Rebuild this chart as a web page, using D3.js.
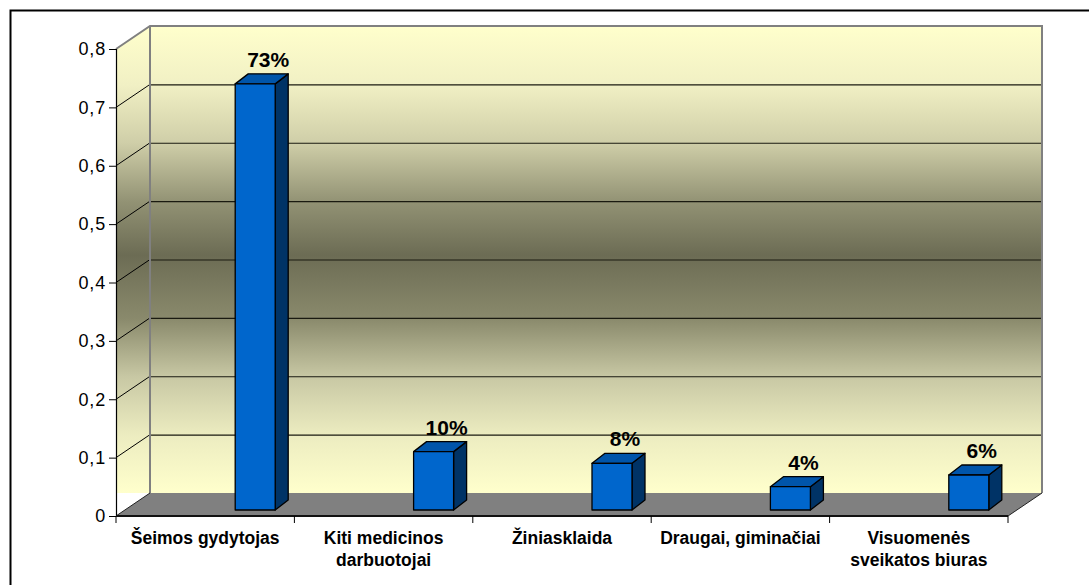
<!DOCTYPE html>
<html><head><meta charset="utf-8">
<script src="https://cdn.jsdelivr.net/npm/d3@7"></script>
<style>html,body{margin:0;padding:0;background:#fff}svg{display:block}</style>
</head><body>
<script>
const categories = [["Šeimos gydytojas"],["Kiti medicinos","darbuotojai"],["Žiniasklaida"],["Draugai, giminačiai"],["Visuomenės","sveikatos biuras"]];
const values = [0.73, 0.10, 0.08, 0.04, 0.06];
const valueLabels = ["73%","10%","8%","4%","6%"];
const yTicks = [0,0.1,0.2,0.3,0.4,0.5,0.6,0.7,0.8];

(function(){
const W=1089,H=585;
const svg=d3.select("body").append("svg").attr("width",W).attr("height",H);
svg.append("rect").attr("width",W).attr("height",H).attr("fill","#fff");
svg.append("rect").attr("x",10.5).attr("y",10.5).attr("width",1200).attr("height",700)
  .attr("fill","none").attr("stroke","#000").attr("stroke-width",2);

const y=d3.scaleLinear().domain([0,0.8]).range([516,49]);
const keys=categories.map((c,i)=>i);
const x=d3.scaleBand().domain(keys).range([116,1008]);
const DX=34, DY=-23;
const L=116,R=1008;

const defs=svg.append("defs");
const g=defs.append("linearGradient").attr("id","wall").attr("gradientUnits","userSpaceOnUse")
  .attr("x1",0).attr("x2",0).attr("y1",26).attr("y2",493);
const stops=[[26,"#FFFFCC"],[85,"#F1F0C4"],[143,"#CFCEA8"],[202,"#929274"],[255,"#6C6C54"],[319,"#8A8A6C"],[377,"#C8C8A4"],[435,"#ECECC0"],[493,"#FFFFCC"]];
stops.forEach(s=>g.append("stop").attr("offset",(s[0]-26)/(493-26)).attr("stop-color",s[1]));

const wTop=y(0.8)+DY, wBot=y(0)+DY;
svg.append("polygon").attr("points",[[L,y(0.8)],[L+DX,wTop],[L+DX,wBot],[L,wBot]].join(" "))
  .attr("fill","url(#wall)");
svg.append("rect").attr("x",L+DX).attr("y",wTop).attr("width",R-L).attr("height",wBot-wTop).attr("fill","url(#wall)");
svg.append("polygon").attr("points",[[L,y(0)],[R,y(0)],[R+DX,wBot],[L+DX,wBot]].join(" ")).attr("fill","#808080");

yTicks.filter(t=>t>0&&t<0.8).forEach(t=>{
  svg.append("line").attr("x1",L+DX).attr("x2",R+DX).attr("y1",y(t)+DY+0.5).attr("y2",y(t)+DY+0.5)
    .attr("stroke","#1a1a10").attr("stroke-width",1.2);
  svg.append("line").attr("x1",L).attr("y1",y(t)).attr("x2",L+DX).attr("y2",y(t)+DY)
    .attr("stroke","#000").attr("stroke-width",1);
});
svg.append("path").attr("d",`M${L},${y(0.8)}L${L+DX},${wTop}L${R+DX},${wTop}L${R+DX},${wBot}`)
  .attr("fill","none").attr("stroke","#808080").attr("stroke-width",2);
svg.append("line").attr("x1",L+DX).attr("x2",L+DX).attr("y1",wTop).attr("y2",wBot).attr("stroke","#808080").attr("stroke-width",2);
svg.append("line").attr("x1",R).attr("y1",y(0)).attr("x2",R+DX).attr("y2",wBot).attr("stroke","#222").attr("stroke-width",1);
svg.append("line").attr("x1",L).attr("y1",y(0)).attr("x2",L+DX).attr("y2",wBot).attr("stroke","#222").attr("stroke-width",1);

const ya=svg.append("g").attr("transform",`translate(${L},0)`)
  .call(d3.axisLeft(y).tickValues(yTicks).tickSize(7).tickPadding(3).tickFormat(d=>d3.format(".1~f")(d).replace(".",",")));
ya.select(".domain").attr("stroke","#000").attr("stroke-width",1.2);
ya.selectAll(".tick line").attr("stroke","#000");
ya.selectAll("text").attr("font-family","'Liberation Sans',Arial,sans-serif").attr("font-size",18)
  .attr("letter-spacing",0.8).attr("fill","#000");

svg.append("line").attr("x1",L).attr("x2",R).attr("y1",y(0)).attr("y2",y(0)).attr("stroke","#111").attr("stroke-width",2);
const bounds=keys.map(k=>x(k)).concat([R]);
bounds.forEach(b=>svg.append("line").attr("x1",b).attr("x2",b).attr("y1",y(0)).attr("y2",y(0)+7).attr("stroke","#000").attr("stroke-width",1));
keys.forEach(k=>{
  const t=svg.append("text").attr("x",x(k)+x.bandwidth()/2).attr("y",544).attr("text-anchor","middle")
    .attr("font-family","'Liberation Sans',Arial,sans-serif").attr("font-weight","bold").attr("font-size",17.5).attr("fill","#000");
  categories[k].forEach((line,j)=>t.append("tspan").attr("x",x(k)+x.bandwidth()/2).attr("dy",j?22:0).text(line));
});

const BW=40, BDX=13, BDY=-10, BOFF=-6, SHIFT=30;
keys.forEach(k=>{
  const x0=x(k)+x.bandwidth()/2+SHIFT, x1=x0+BW;
  const yt=y(values[k])+BOFF, yb=y(0)+BOFF;
  const gb=svg.append("g").attr("stroke","#000").attr("stroke-width",1.3).attr("stroke-linejoin","round");
  gb.append("polygon").attr("points",[[x1,yt],[x1+BDX,yt+BDY],[x1+BDX,yb+BDY],[x1,yb]].join(" ")).attr("fill","#003366");
  gb.append("polygon").attr("points",[[x0,yt],[x1,yt],[x1+BDX,yt+BDY],[x0+BDX,yt+BDY]].join(" ")).attr("fill","#0055AA");
  gb.append("rect").attr("x",x0).attr("y",yt).attr("width",BW).attr("height",yb-yt).attr("fill","#0066CC");
  svg.append("text").attr("x",x0+BW/2+13).attr("y",yt+BDY-7).attr("text-anchor","middle")
    .attr("font-family","'Liberation Sans',Arial,sans-serif").attr("font-weight","bold").attr("font-size",21).attr("fill","#000")
    .text(valueLabels[k]);
});
})();
</script>
</body></html>
